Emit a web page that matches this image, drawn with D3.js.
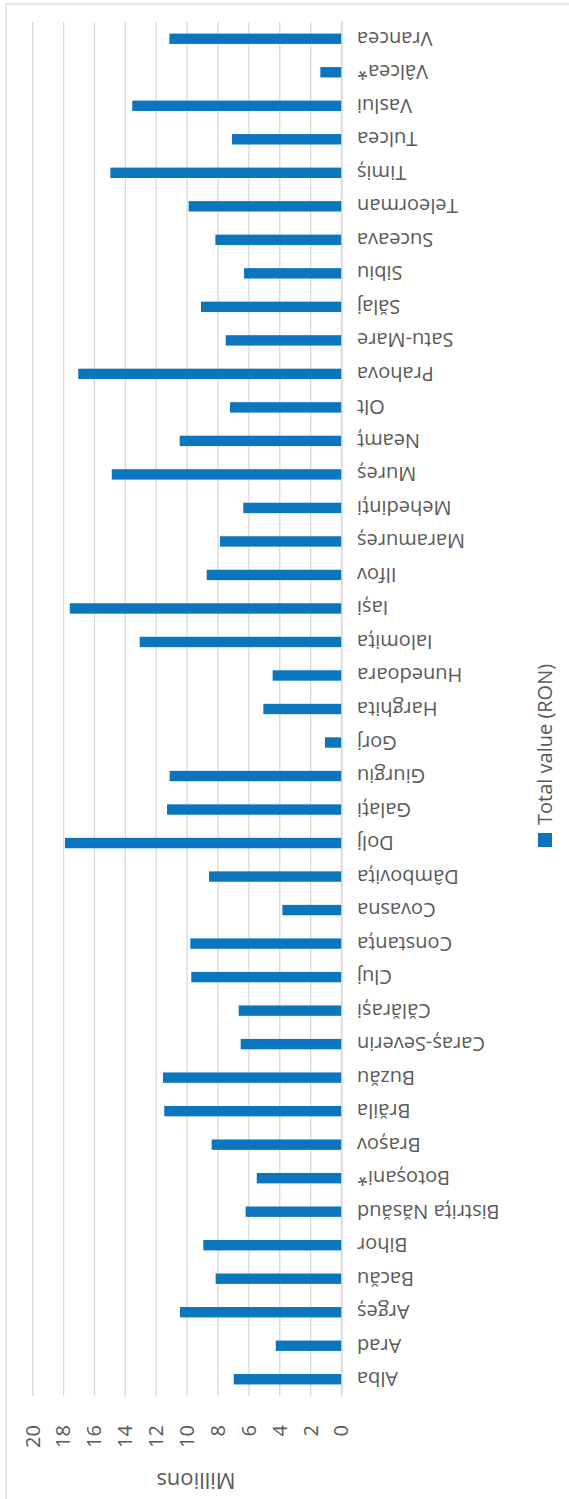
<!DOCTYPE html>
<meta charset="utf-8">
<head>
    <script src="https://d3js.org/d3.v7.min.js"></script>
    <style>
        body { margin: 0; background: #fff; }
        text { font-family: "Open Sans", sans-serif; fill: #595959; }
    </style>
</head>
<body>
<div id="chart"></div>
<script>

    // counties, left to right in the original column chart
    var categories = ["Alba", "Arad", "Argeș", "Bacău", "Bihor", "Bistrița Năsăud", "Botoșani*",
        "Brașov", "Brăila", "Buzău", "Caraș-Severin", "Călărași", "Cluj", "Constanța", "Covasna",
        "Dâmbovița", "Dolj", "Galați", "Giurgiu", "Gorj", "Harghita", "Hunedoara", "Ialomița",
        "Iași", "Ilfov", "Maramureș", "Mehedinți", "Mureș", "Neamț", "Olt", "Prahova",
        "Satu-Mare", "Sălaj", "Sibiu", "Suceava", "Teleorman", "Timiș", "Tulcea", "Vaslui",
        "Vâlcea*", "Vrancea"];

    // total value (RON), millions
    var values = [6.98, 4.26, 10.46, 8.15, 8.95, 6.21, 5.49,
        8.41, 11.48, 11.56, 6.53, 6.66, 9.73, 9.79, 3.83,
        8.58, 17.91, 11.30, 11.13, 1.07, 5.06, 4.46, 13.07,
        17.60, 8.73, 7.87, 6.36, 14.88, 10.48, 7.22, 17.05,
        7.50, 9.10, 6.31, 8.17, 9.90, 14.97, 7.09, 13.55,
        1.37, 11.15];

    var valueTicks = [0, 2, 4, 6, 8, 10, 12, 14, 16, 18, 20];
    var seriesName = "Total value (RON)";
    var unitLabel = "Millions";

    var pageW = 569, pageH = 1499;
    // the chart is drawn as a normal column chart (W x H) and then turned a quarter left
    var W = pageH, H = pageW;

    var svg = d3.select("#chart")
      .append("svg")
        .attr("width", pageW)
        .attr("height", pageH);

    var g = svg.append("g")
        .attr("transform", "translate(0," + pageH + ") rotate(-90)");

    // chart frame (only top and right edges fall inside the page)
    g.append("rect")
        .attr("x", -10).attr("y", 6)
        .attr("width", W - 4 + 10).attr("height", H + 20)
        .attr("fill", "none")
        .attr("stroke", "#d9d9d9")
        .attr("stroke-width", 1.2);

    var x = d3.scaleBand()
        .domain(categories)
        .range([103, 1477])
        .paddingInner(0.69)
        .paddingOuter(0.345);

    var y = d3.scaleLinear()
        .domain([0, 20])
        .range([341.5, 32.7]);

    // gridlines
    g.append("g")
      .selectAll("line")
      .data(valueTicks)
      .enter()
      .append("line")
        .attr("x1", 103).attr("x2", 1477)
        .attr("y1", function(d) { return y(d); })
        .attr("y2", function(d) { return y(d); })
        .attr("stroke", "#d9d9d9")
        .attr("stroke-width", 1.3);

    // value axis
    var yAxis = g.append("g")
        .attr("transform", "translate(103,0)")
        .call(d3.axisLeft(y).tickValues(valueTicks).tickSize(0).tickPadding(29));
    yAxis.select(".domain").remove();
    yAxis.selectAll("text")
        .style("font-size", "20px")
        .attr("fill", "#595959");

    // bars
    g.append("g")
      .selectAll("rect")
      .data(values)
      .enter()
      .append("rect")
        .attr("x", function(d, i) { return x(categories[i]); })
        .attr("width", x.bandwidth())
        .attr("y", function(d) { return y(d); })
        .attr("height", function(d) { return y(0) - y(d); })
        .attr("fill", "#0b75bd");

    // category axis
    var xAxis = g.append("g")
        .attr("transform", "translate(0," + y(0) + ")")
        .call(d3.axisBottom(x).tickSize(0));
    xAxis.select(".domain")
        .attr("stroke", "#d9d9d9")
        .attr("stroke-width", 1.3);
    xAxis.selectAll("text")
        .attr("transform", "rotate(-90)")
        .attr("x", -15.5)
        .attr("y", 0)
        .attr("dy", "0.35em")
        .attr("text-anchor", "end")
        .style("font-size", "20px")
        .attr("fill", "#595959");

    // display unit label
    g.append("text")
        .attr("transform", "translate(26,196) rotate(-90)")
        .attr("text-anchor", "middle")
        .style("font-size", "22px")
        .text(unitLabel);

    // legend
    g.append("rect")
        .attr("x", 652).attr("y", 538)
        .attr("width", 14).attr("height", 14)
        .attr("fill", "#0b75bd");
    g.append("text")
        .attr("x", 674).attr("y", 552)
        .style("font-size", "20px")
        .text(seriesName);

</script>
</body>
